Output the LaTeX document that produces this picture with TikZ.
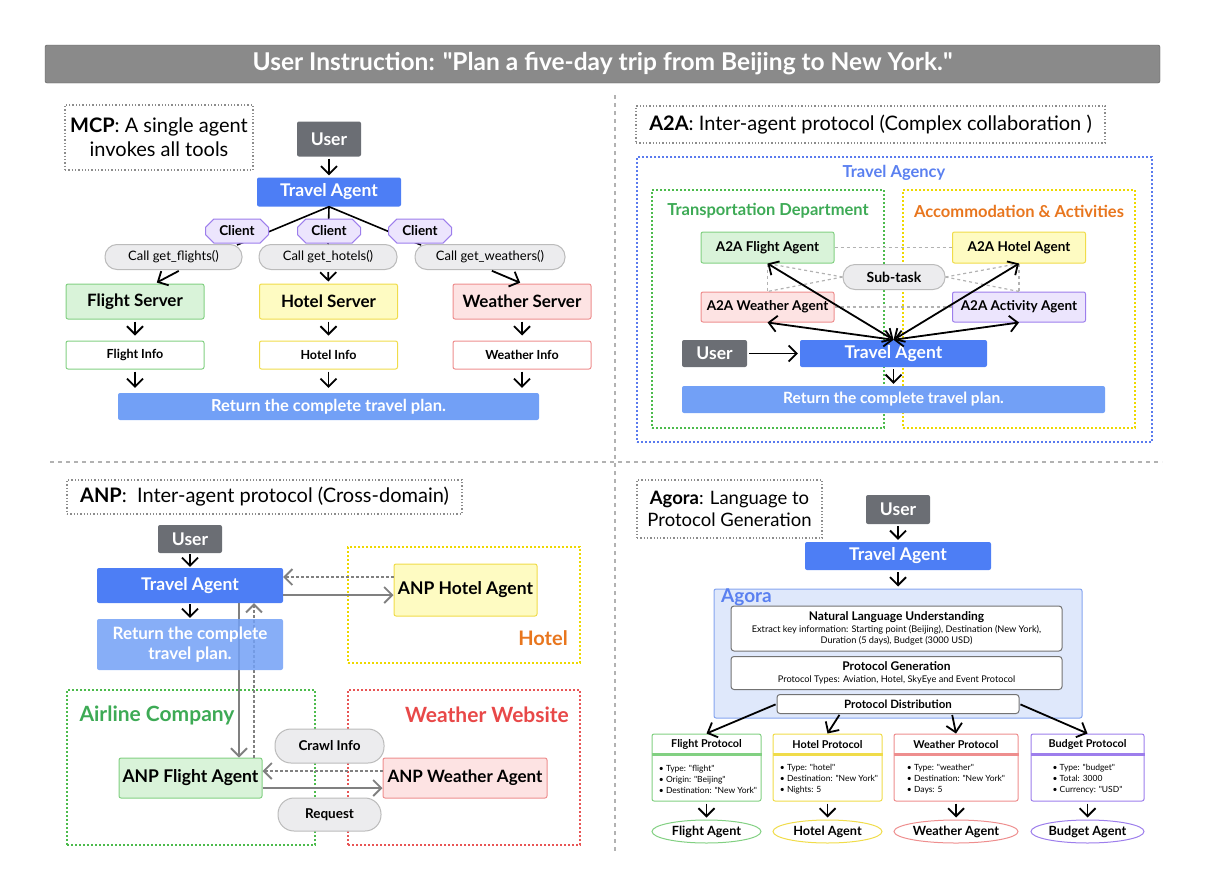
\documentclass[tikz,border=0pt]{standalone}
\usepackage{fontspec}
\setmainfont{Lato}
\usepackage{xcolor}
\usepackage{tikz}
\usetikzlibrary{positioning,arrows,arrows.meta,shapes.geometric,shapes.misc}

\newcommand{\straightqq}{\XeTeXglyph\XeTeXcharglyph"22\relax}

\definecolor{titlegray}{HTML}{8A8A8A}
\definecolor{usergray}{HTML}{6B6E74}
\definecolor{agentblue}{HTML}{4D7EF5}
\definecolor{returnblue}{HTML}{72A0F6}
\definecolor{greenfill}{HTML}{D9F3D9}
\definecolor{greenline}{HTML}{82D082}
\definecolor{yellowfill}{HTML}{FEFBC2}
\definecolor{yellowline}{HTML}{F0DC4A}
\definecolor{redfill}{HTML}{FDE3E3}
\definecolor{redline}{HTML}{EE8E8E}
\definecolor{purplefill}{HTML}{ECE5FD}
\definecolor{purpleline}{HTML}{9D7EEC}
\definecolor{callfill}{HTML}{ECECEE}
\definecolor{callline}{HTML}{BBBBBB}
\definecolor{zonegreen}{HTML}{4CBB4C}
\definecolor{zoneyellow}{HTML}{EED800}
\definecolor{zonered}{HTML}{E85555}
\definecolor{zoneblue}{HTML}{5A7BEE}
\definecolor{textgreen}{HTML}{3DAA55}
\definecolor{textorange}{HTML}{E8761E}
\definecolor{textred}{HTML}{E84848}
\definecolor{textblue}{HTML}{5A80F0}
\definecolor{agorafill}{HTML}{DFE8FB}
\definecolor{agoraline}{HTML}{85A5F0}

\begin{document}
\begin{tikzpicture}[x=1pt,y=-1pt]
		\tikzstyle{box_style} = [rectangle,rounded corners=2pt,inner sep=0pt,align=center]
		\tikzstyle{user_style} = [box_style,fill=usergray,text=white,font=\fontsize{17.5}{20}\selectfont\bfseries]
		\tikzstyle{agent_style} = [box_style,fill=agentblue,text=white,font=\fontsize{17.5}{20}\selectfont\bfseries]
		\tikzstyle{return_style} = [box_style,fill=returnblue,text=white,font=\fontsize{16.5}{19}\selectfont\bfseries]
		\tikzstyle{green_style} = [box_style,draw=greenline,fill=greenfill,line width=1pt]
		\tikzstyle{yellow_style} = [box_style,draw=yellowline,fill=yellowfill,line width=1pt]
		\tikzstyle{red_style} = [box_style,draw=redline,fill=redfill,line width=1pt]
		\tikzstyle{purple_style} = [box_style,draw=purpleline,fill=purplefill,line width=1pt]
		\tikzstyle{call_style} = [box_style,rounded corners=12pt,draw=callline,fill=callfill,line width=1pt,font=\fontsize{13}{15}\selectfont]
		\tikzstyle{client_style} = [chamfered rectangle,chamfered rectangle xsep=6pt,draw=purpleline,fill=purplefill,line width=1pt,inner sep=0pt,minimum width=63pt,minimum height=24pt,font=\fontsize{13.5}{15}\selectfont\bfseries]
		\tikzstyle{label_style} = [draw=black!45,dotted,line width=1.3pt,inner sep=0pt,align=center,font=\fontsize{20}{24}\selectfont]
		\tikzstyle{zone_style} = [rectangle,line width=1.3pt,dash pattern=on 2pt off 2pt,inner sep=0pt]
		\tikzstyle{stage_style} = [box_style,rounded corners=3pt,draw=black!55,fill=white,line width=1pt]
		\tikzstyle{line_style} = [draw=black,line width=1.6pt]
		\tikzstyle{arrow_style} = [draw=black,line width=1.8pt,-{Straight Barb[length=8pt,width=16pt]},shorten >=2pt,shorten <=2pt]
		\tikzstyle{both_style} = [draw=black,line width=1.8pt,{Straight Barb[length=8pt,width=16pt]}-{Straight Barb[length=8pt,width=16pt]}]
		\tikzstyle{link_style} = [draw=black!50,line width=1.8pt,-{Straight Barb[length=8pt,width=16pt]}]
		\tikzstyle{back_style} = [link_style,dash pattern=on 3pt off 2pt]
		\tikzstyle{mesh_style} = [draw=black!30,line width=1.2pt,dash pattern=on 3pt off 3pt]
		\useasboundingbox (0,0) rectangle (1212,886);
		% title and dividers
		\node[box_style,draw=black!65,fill=titlegray,text=white,minimum width=1115pt,minimum height=38pt,font=\fontsize{24.5}{26}\selectfont\bfseries] (title) at (602.5,64) {User Instruction: \straightqq Plan a five-day trip from Beijing to New York.\straightqq};
		\draw[black!30,line width=2pt,dash pattern=on 4pt off 4pt] (50,462) -- (1162,462);
		\draw[black!30,line width=2pt,dash pattern=on 4pt off 4pt] (615,95) -- (615,852);
		% MCP
		\node[label_style,minimum width=188pt,minimum height=65pt] (mcp_label) at (159,137.5) {\textbf{MCP}: A single agent\\invokes all tools};
		\node[user_style,minimum width=64pt,minimum height=35pt] (mcp_user) at (329,139) {User};
		\node[agent_style,minimum width=144pt,minimum height=29pt] (mcp_agent) at (329,192) {Travel Agent};
		\node[call_style,minimum width=137pt,minimum height=25pt] (mcp_call1) at (173.5,257) {Call get\_flights()};
		\node[call_style,minimum width=138pt,minimum height=25pt] (mcp_call2) at (328,257) {Call get\_hotels()};
		\node[call_style,minimum width=150pt,minimum height=25pt] (mcp_call3) at (490,257) {Call get\_weathers()};
		\coordinate (mcp_tip1) at (237,245);
		\coordinate (mcp_tip3) at (421,245);
		\draw[line_style] (mcp_agent.south) -- (mcp_tip1);
		\draw[line_style] (mcp_agent.south) -- (mcp_call2.north);
		\draw[line_style] (mcp_agent.south) -- (mcp_tip3);
		\node[client_style] (mcp_client1) at (237,231) {Client};
		\node[client_style] (mcp_client2) at (329,231) {Client};
		\node[client_style] (mcp_client3) at (420,231) {Client};
		\node[green_style,minimum width=138pt,minimum height=35pt,font=\fontsize{17}{20}\selectfont\bfseries] (flight_server) at (135,301.5) {Flight Server};
		\node[yellow_style,minimum width=138pt,minimum height=35pt,font=\fontsize{17}{20}\selectfont\bfseries] (hotel_server) at (328.5,301.5) {Hotel Server};
		\node[red_style,minimum width=138pt,minimum height=35pt,font=\fontsize{17}{20}\selectfont\bfseries] (weather_server) at (522,301.5) {Weather Server};
		\node[box_style,draw=greenline,fill=white,line width=1pt,minimum width=138pt,minimum height=28pt,font=\fontsize{12.5}{15}\selectfont\bfseries] (flight_info) at (135,355) {Flight Info};
		\node[box_style,draw=yellowline,fill=white,line width=1pt,minimum width=138pt,minimum height=28pt,font=\fontsize{12.5}{15}\selectfont\bfseries] (hotel_info) at (328.5,355) {Hotel Info};
		\node[box_style,draw=redline,fill=white,line width=1pt,minimum width=138pt,minimum height=28pt,font=\fontsize{12.5}{15}\selectfont\bfseries] (weather_info) at (522,355) {Weather Info};
		\node[return_style,minimum width=421pt,minimum height=27pt] (mcp_return) at (328.5,406.5) {Return the complete travel plan.};
		\draw[arrow_style] (mcp_user) edge (mcp_agent);
		\draw[arrow_style] ([xshift=7pt]mcp_call1.south) -- ([xshift=20pt]flight_server.north);
		\draw[arrow_style] (mcp_call2) edge (hotel_server);
		\draw[arrow_style] (mcp_call3.south) -- (weather_server.north);
		\draw[arrow_style,shorten >=5pt] (flight_server) edge (flight_info);
		\draw[arrow_style,shorten >=5pt] (hotel_server) edge (hotel_info);
		\draw[arrow_style,shorten >=5pt] (weather_server) edge (weather_info);
		\draw[arrow_style,shorten >=5pt] (flight_info.south) -- (flight_info.south |- mcp_return.north);
		\draw[arrow_style,shorten >=5pt] (hotel_info.south) -- (hotel_info.south |- mcp_return.north);
		\draw[arrow_style,shorten >=5pt] (weather_info.south) -- (weather_info.south |- mcp_return.north);
		% A2A
		\node[label_style,minimum width=469pt,minimum height=37pt] (a2a_label) at (870.5,124.5) {\textbf{A2A}: Inter-agent protocol (Complex collaboration )};
		\node[zone_style,draw=zoneblue,minimum width=515pt,minimum height=285pt] (agency_zone) at (894.5,299.5) {};
		\node[font=\fontsize{16.5}{19}\selectfont\bfseries,text=textblue] (agency_title) at (894,173) {Travel Agency};
		\node[zone_style,draw=zonegreen,minimum width=232pt,minimum height=238pt] (transport_zone) at (768,309) {};
		\node[font=\fontsize{16.5}{19}\selectfont\bfseries,text=textgreen] (transport_title) at (768,211) {Transportation Department};
		\node[zone_style,draw=zoneyellow,minimum width=232pt,minimum height=238pt] (accom_zone) at (1019,309) {};
		\node[font=\fontsize{16.5}{19}\selectfont\bfseries,text=textorange] (accom_title) at (1019,211) {Accommodation \& Activities};
		\node[green_style,minimum width=133pt,minimum height=31pt,font=\fontsize{13.5}{16}\selectfont\bfseries] (a2a_flight) at (767.5,247.5) {A2A Flight Agent};
		\node[yellow_style,minimum width=133pt,minimum height=31pt,font=\fontsize{13.5}{16}\selectfont\bfseries] (a2a_hotel) at (1019,247.5) {A2A Hotel Agent};
		\node[red_style,minimum width=133pt,minimum height=30pt,font=\fontsize{13.5}{16}\selectfont\bfseries] (a2a_weather) at (767.5,307) {A2A Weather Agent};
		\node[purple_style,minimum width=133pt,minimum height=30pt,font=\fontsize{13.5}{16}\selectfont\bfseries] (a2a_activity) at (1019,307) {A2A Activity Agent};
		\node[call_style,minimum width=102pt,minimum height=25pt,font=\fontsize{14}{16}\selectfont\bfseries] (a2a_subtask) at (894,277) {Sub-task};
		\node[user_style,minimum width=65pt,minimum height=27pt] (a2a_user) at (714.5,353.5) {User};
		\node[agent_style,minimum width=187pt,minimum height=27pt] (a2a_agent) at (893.5,353.5) {Travel Agent};
		\node[return_style,minimum width=423pt,minimum height=27pt,font=\fontsize{15.5}{18}\selectfont\bfseries] (a2a_return) at (893.5,399.5) {Return the complete travel plan.};
		\draw[mesh_style] (a2a_flight) edge (a2a_hotel);
		\draw[mesh_style] (a2a_weather) edge (a2a_activity);
		\draw[mesh_style] (a2a_flight) edge (a2a_weather);
		\draw[mesh_style] (a2a_hotel) edge (a2a_activity);
		\draw[mesh_style] (a2a_subtask.west) -- (a2a_flight.south);
		\draw[mesh_style] (a2a_subtask.west) -- (a2a_weather.north);
		\draw[mesh_style] (a2a_subtask.east) -- (a2a_hotel.south);
		\draw[mesh_style] (a2a_subtask.east) -- (a2a_activity.north);
		\draw[both_style] (a2a_agent.north) -- (a2a_flight.south);
		\draw[both_style] (a2a_agent.north) -- (a2a_weather.south);
		\draw[both_style] (a2a_agent.north) -- (a2a_hotel.south);
		\draw[both_style] (a2a_agent.north) -- (a2a_activity.south);
		\draw[arrow_style] (a2a_user) edge (a2a_agent);
		\draw[arrow_style] (a2a_agent) edge (a2a_return);
		% ANP
		\node[label_style,minimum width=395pt,minimum height=34pt] (anp_label) at (264.5,497) {\textbf{ANP}:\ \ Inter-agent protocol (Cross-domain)};
		\node[user_style,minimum width=64pt,minimum height=28pt] (anp_user) at (190,539) {User};
		\node[agent_style,minimum width=186pt,minimum height=35pt] (anp_agent) at (190,585.5) {Travel Agent};
		\node[zone_style,draw=zoneyellow,minimum width=232pt,minimum height=116pt] (hotel_zone) at (464,605) {};
		\node[font=\fontsize{20}{22}\selectfont\bfseries,text=textorange] (hotel_title) at (543,638) {Hotel};
		\node[yellow_style,minimum width=143pt,minimum height=52pt,font=\fontsize{17.5}{20}\selectfont\bfseries] (anp_hotel) at (465.5,590) {ANP Hotel Agent};
		\node[zone_style,draw=zonegreen,minimum width=248pt,minimum height=155pt] (airline_zone) at (191,767.5) {};
		\node[font=\fontsize{21}{24}\selectfont\bfseries,text=textgreen] (airline_title) at (157,715) {Airline Company};
		\node[zone_style,draw=zonered,minimum width=232pt,minimum height=155pt] (website_zone) at (464,767.5) {};
		\node[font=\fontsize{21}{24}\selectfont\bfseries,text=textred] (website_title) at (487,715) {Weather Website};
		\node[green_style,minimum width=143pt,minimum height=40pt,font=\fontsize{17.5}{20}\selectfont\bfseries] (anp_flight) at (190.5,778) {ANP Flight Agent};
		\node[red_style,minimum width=164pt,minimum height=40pt,font=\fontsize{17}{20}\selectfont\bfseries] (anp_weather) at (465,778) {ANP Weather Agent};
		\node[call_style,rounded corners=16pt,minimum width=109pt,minimum height=34pt,font=\fontsize{13.5}{16}\selectfont\bfseries] (anp_crawl) at (329.5,746) {Crawl Info};
		\node[call_style,rounded corners=16pt,minimum width=103pt,minimum height=33pt,font=\fontsize{13.5}{16}\selectfont\bfseries] (anp_request) at (329.5,814.5) {Request};
		\draw[link_style] ([xshift=49pt]anp_agent.south) -- ([xshift=49pt]anp_agent.south |- anp_flight.north);
		\draw[back_style] ([xshift=64pt]anp_agent.south |- anp_flight.north) -- ([xshift=64pt]anp_agent.south);
		\node[return_style,fill opacity=0.85,text opacity=1,minimum width=186pt,minimum height=51pt,font=\fontsize{17}{20}\selectfont\bfseries] (anp_return) at (190,644.5) {Return the complete\\travel plan.};
		\draw[arrow_style,shorten <=1pt,shorten >=1pt] (anp_user) edge (anp_agent);
		\draw[arrow_style,shorten <=1pt,shorten >=1pt] (anp_agent) edge (anp_return);
		\draw[link_style] ([yshift=-9.5pt]anp_agent.east) -- ([yshift=-9.5pt]anp_agent.east -| anp_hotel.west);
		\draw[back_style] ([yshift=13pt]anp_hotel.west) -- ([yshift=13pt]anp_hotel.west -| anp_agent.east);
		\draw[back_style] ([yshift=7pt]anp_weather.west) -- ([yshift=7pt]anp_weather.west -| anp_flight.east);
		\draw[link_style] ([yshift=-10pt]anp_flight.east) -- ([yshift=-10pt]anp_flight.east -| anp_weather.west);
		% Agora
		\node[label_style,minimum width=185pt,minimum height=58pt,font=\fontsize{18.5}{22}\selectfont] (agora_label) at (729.5,509) {\textbf{Agora}: Language to\\Protocol Generation};
		\node[user_style,minimum width=64pt,minimum height=29pt] (agora_user) at (898,509.5) {User};
		\node[agent_style,minimum width=186pt,minimum height=28pt] (agora_agent) at (898,556) {Travel Agent};
		\node[box_style,draw=agoraline,fill=agorafill,line width=1pt,minimum width=368pt,minimum height=129pt] (agora_box) at (898,653.5) {};
		\node[font=\fontsize{19}{21}\selectfont\bfseries,text=textblue,anchor=west,inner sep=0pt] (agora_title) at (721,597) {Agora};
		\node[stage_style,minimum width=331pt,minimum height=45pt,font=\fontsize{9.2}{11.5}\selectfont] (nlu) at (896.5,628.5) {{\fontsize{12}{15}\selectfont\bfseries Natural Language Understanding}\\Extract key information: Starting point (Beijing), Destination (New York),\\Duration (5 days), Budget (3000 USD)};
		\node[stage_style,minimum width=331pt,minimum height=33pt,font=\fontsize{9.2}{11.5}\selectfont] (pgen) at (896.5,673) {{\fontsize{12}{15}\selectfont\bfseries Protocol Generation}\\Protocol Types: Aviation, Hotel, SkyEye and Event Protocol};
		\node[stage_style,minimum width=242pt,minimum height=19pt,font=\fontsize{11.5}{13}\selectfont\bfseries] (pdist) at (898,704) {Protocol Distribution};
		\node[box_style,draw=greenline,fill=white,line width=1pt,minimum width=109pt,minimum height=67pt] (flight_proto) at (706.5,767.5) {};
		\node[box_style,draw=yellowline,fill=white,line width=1pt,minimum width=109pt,minimum height=67pt] (hotel_proto) at (827.5,767.5) {};
		\node[box_style,draw=redline,fill=white,line width=1pt,minimum width=124pt,minimum height=67pt] (weather_proto) at (956,767.5) {};
		\node[box_style,draw=purpleline,fill=white,line width=1pt,minimum width=113pt,minimum height=67pt] (budget_proto) at (1087.5,767.5) {};
		\draw[greenline,line width=2.5pt] ([yshift=-21pt]flight_proto.north west) -- ([yshift=-21pt]flight_proto.north east);
		\draw[yellowline,line width=2.5pt] ([yshift=-21pt]hotel_proto.north west) -- ([yshift=-21pt]hotel_proto.north east);
		\draw[redline,line width=2.5pt] ([yshift=-21pt]weather_proto.north west) -- ([yshift=-21pt]weather_proto.north east);
		\draw[purpleline,line width=2.5pt] ([yshift=-21pt]budget_proto.north west) -- ([yshift=-21pt]budget_proto.north east);
		\node[font=\fontsize{10.8}{12}\selectfont\bfseries] (flight_head) at (706.5,744.5) {Flight Protocol};
		\node[font=\fontsize{10.8}{12}\selectfont\bfseries] (hotel_head) at (827.5,744.5) {Hotel Protocol};
		\node[font=\fontsize{10.8}{12}\selectfont\bfseries] (weather_head) at (956,744.5) {Weather Protocol};
		\node[font=\fontsize{10.8}{12}\selectfont\bfseries] (budget_head) at (1087.5,744.5) {Budget Protocol};
		\node[align=left,inner sep=0pt,font=\fontsize{8.5}{11}\selectfont] (flight_items) at (708,779) {\textbullet\ Type: \straightqq flight\straightqq\\\textbullet\ Origin: \straightqq Beijing\straightqq\\\textbullet\ Destination: \straightqq New York\straightqq};
		\node[align=left,inner sep=0pt,font=\fontsize{8.5}{11}\selectfont] (hotel_items) at (829,779) {\textbullet\ Type: \straightqq hotel\straightqq\\\textbullet\ Destination: \straightqq New York\straightqq\\\textbullet\ Nights: 5};
		\node[align=left,inner sep=0pt,font=\fontsize{8.5}{11}\selectfont] (weather_items) at (956,779) {\textbullet\ Type: \straightqq weather\straightqq\\\textbullet\ Destination: \straightqq New York\straightqq\\\textbullet\ Days: 5};
		\node[align=left,inner sep=0pt,font=\fontsize{8.5}{11}\selectfont] (budget_items) at (1087.5,779) {\textbullet\ Type: \straightqq budget\straightqq\\\textbullet\ Total: 3000\\\textbullet\ Currency: \straightqq USD\straightqq};
		\node[ellipse,draw=greenline,fill=white,line width=1pt,inner sep=0pt,minimum width=109pt,minimum height=23pt,font=\fontsize{12.7}{15}\selectfont\bfseries] (flight_agent) at (706.5,831.5) {Flight Agent};
		\node[ellipse,draw=yellowline,fill=white,line width=1pt,inner sep=0pt,minimum width=109pt,minimum height=23pt,font=\fontsize{12.7}{15}\selectfont\bfseries] (hotel_agent) at (827.5,831.5) {Hotel Agent};
		\node[ellipse,draw=redline,fill=white,line width=1pt,inner sep=0pt,minimum width=124pt,minimum height=23pt,font=\fontsize{12.7}{15}\selectfont\bfseries] (weather_agent) at (956,831.5) {Weather Agent};
		\node[ellipse,draw=purpleline,fill=white,line width=1pt,inner sep=0pt,minimum width=113pt,minimum height=23pt,font=\fontsize{12.7}{15}\selectfont\bfseries] (budget_agent) at (1087.5,831.5) {Budget Agent};
		\draw[arrow_style] (agora_user) edge (agora_agent);
		\draw[arrow_style] (agora_agent) edge (agora_box);
		\draw[arrow_style,shorten <=1pt,shorten >=0pt] (pdist.west) -- (flight_proto.north);
		\draw[arrow_style,shorten <=1pt,shorten >=0pt] ([xshift=-58pt]pdist.south) -- (hotel_proto.north);
		\draw[arrow_style,shorten <=1pt,shorten >=0pt] ([xshift=54pt]pdist.south) -- (weather_proto.north);
		\draw[arrow_style,shorten <=1pt,shorten >=0pt] (pdist.east) -- (budget_proto.north);
		\draw[arrow_style] (flight_proto) edge (flight_agent);
		\draw[arrow_style] (hotel_proto) edge (hotel_agent);
		\draw[arrow_style] (weather_proto) edge (weather_agent);
		\draw[arrow_style] (budget_proto) edge (budget_agent);
\end{tikzpicture}
\end{document}
